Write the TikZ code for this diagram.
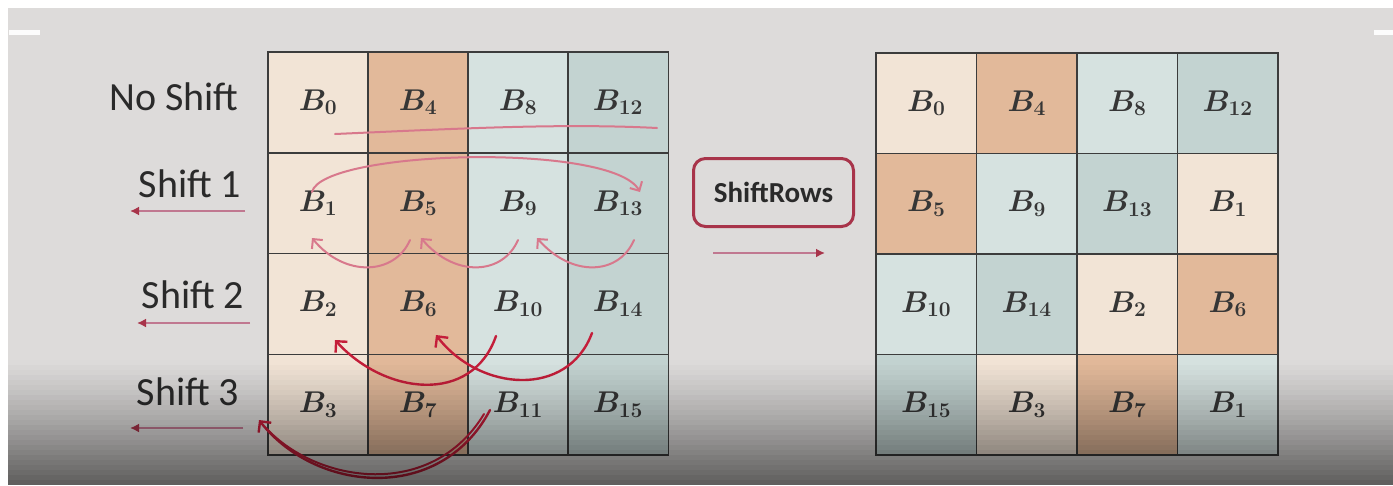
\RequirePackage{fix-cm}
\documentclass[tikz,border=0pt]{standalone}
\usepackage{fontspec}
\setsansfont{Carlito}
\usetikzlibrary{arrows.meta}
\definecolor{slide}{HTML}{DDDBDA}
\definecolor{beige}{HTML}{F2E4D6}
\definecolor{tanc}{HTML}{E2B99A}
\definecolor{lblue}{HTML}{D6E2E0}
\definecolor{dblue}{HTML}{C3D3D1}
\definecolor{gridc}{HTML}{3C3C3C}
\definecolor{txt}{HTML}{363636}
\definecolor{ink}{HTML}{C41E3A}
\definecolor{inklight}{HTML}{D8788C}
\definecolor{boxred}{HTML}{A8344A}
\definecolor{arrowc}{HTML}{C07890}
\definecolor{labc}{HTML}{2A2A2A}
\begin{document}
\begin{tikzpicture}[x=1pt,y=-1pt,
  cell/.style={draw=gridc, line width=1.5pt, inner sep=0pt, outer sep=0pt,
    minimum width=100.5pt, minimum height=100.75pt,
    font=\fontsize{30}{36}\selectfont\boldmath, text=txt},
  lab/.style={font=\sffamily\fontsize{40}{48}\selectfont, text=labc, inner sep=0pt},
  larrow/.style={draw=arrowc, line width=2pt, -{Latex[length=9pt,width=9pt,color=boxred]}},
  inkarc/.style={draw=ink, line width=2.4pt, line cap=round, -{Straight Barb[length=8pt,width=16pt]}},
  inkarcl/.style={draw=inklight, line width=2pt, line cap=round, -{Straight Barb[length=7pt,width=14pt]}},
]
\useasboundingbox (0,0) rectangle (1393,485);
% background
\fill[white] (0,0) rectangle (1393,485);
\fill[slide] (8,8) rectangle (1393,485);
\fill[white!92!slide] (9,30) rectangle (40,35);
\fill[white!92!slide] (1374,30) rectangle (1393,35);

% left grid
\foreach \r in {0,...,3} {
  \foreach \c in {0,...,3} {
    \pgfmathtruncatemacro\idx{4*\c+\r}
    \ifcase\c \def\cc{beige}\or \def\cc{tanc}\or \def\cc{lblue}\or \def\cc{dblue}\fi
    \node[cell, fill=\cc] (L-\r-\c) at ({268+100*\c+50},{52+100.75*\r+50.375}) {$B_{\idx}$};
  }
}
% right grid
\foreach \r in {0,...,3} {
  \foreach \c in {0,...,3} {
    \pgfmathtruncatemacro\oc{mod(\c+\r,4)}
    \pgfmathtruncatemacro\idx{4*\oc+\r}
    \ifnum\r=3 \ifnum\c=3 \def\idx{1}\fi\fi
    \ifcase\oc \def\cc{beige}\or \def\cc{tanc}\or \def\cc{lblue}\or \def\cc{dblue}\fi
    \node[cell, fill=\cc] (R-\r-\c) at ({876+100.5*\c+50.25},{53+100.5*\r+50.25}) {$B_{\idx}$};
  }
}

% row labels
\node[lab] (l0) at (174,97) {No Shift};
\node[lab] (l1) at (190,184) {Shift 1};
\node[lab] (l2) at (193,295) {Shift 2};
\node[lab] (l3) at (188,392) {Shift 3};
\coordinate (a1s) at (245,211); \coordinate (a1e) at (130,211);
\coordinate (a2s) at (250,323); \coordinate (a2e) at (137,323);
\coordinate (a3s) at (243,428); \coordinate (a3e) at (130,428);
\draw[larrow] (a1s) -- (a1e);
\draw[larrow] (a2s) -- (a2e);
\draw[larrow] (a3s) -- (a3e);

% ShiftRows box and arrow
\node[draw=boxred, line width=3pt, rounded corners=12pt, minimum width=160pt,
  minimum height=68pt, inner sep=0pt, text=labc,
  font=\sffamily\bfseries\fontsize{29}{34}\selectfont] (sr) at (773.5,192.5) {ShiftRows};
\coordinate (srs) at (713,253); \coordinate (sre) at (825,253);
\draw[larrow] (srs) -- (sre);

% hand-drawn annotations
\coordinate (p0a) at (335,134); \coordinate (p0b) at (657,128);
\draw[inklight, line width=2pt, line cap=round] (p0a) .. controls (450,129) and (560,123) .. (p0b);
\coordinate (p1a) at (312,192); \coordinate (p1b) at (640,192);
\draw[inkarcl] (p1a) .. controls (322,150) and (612,142) .. (p1b);

\coordinate (q1a) at (410,240); \coordinate (q1b) at (312,238);
\coordinate (q2a) at (518,240); \coordinate (q2b) at (421,238);
\coordinate (q3a) at (634,240); \coordinate (q3b) at (537,238);
\draw[inkarcl] (q1a) .. controls (395,275) and (345,278) .. (q1b);
\draw[inkarcl] (q2a) .. controls (503,275) and (455,278) .. (q2b);
\draw[inkarcl] (q3a) .. controls (619,275) and (572,278) .. (q3b);

\coordinate (s1a) at (496,336); \coordinate (s1b) at (335,340);
\coordinate (s2a) at (592,333); \coordinate (s2b) at (436,335);
\draw[inkarc] (s1a) .. controls (472,405) and (385,395) .. (s1b);
\draw[inkarc] (s2a) .. controls (568,398) and (480,392) .. (s2b);

\coordinate (t1a) at (490,410); \coordinate (t1b) at (259,420);
\coordinate (t2a) at (484,414); \coordinate (t2b) at (266,428);
\draw[inkarc] (t1a) .. controls (440,505) and (315,492) .. (t1b);
\draw[draw=ink, line width=2pt, line cap=round] (t2a) .. controls (432,500) and (318,484) .. (t2b);

% video darkening at bottom
\foreach \i in {0,...,24} {
  \pgfmathsetmacro\op{0.58*((\i+0.5)/25)^1.2}
  \fill[black, opacity=\op] (8,{360+5*\i}) rectangle (1393,{365+5*\i});
}
\end{tikzpicture}
\end{document}
